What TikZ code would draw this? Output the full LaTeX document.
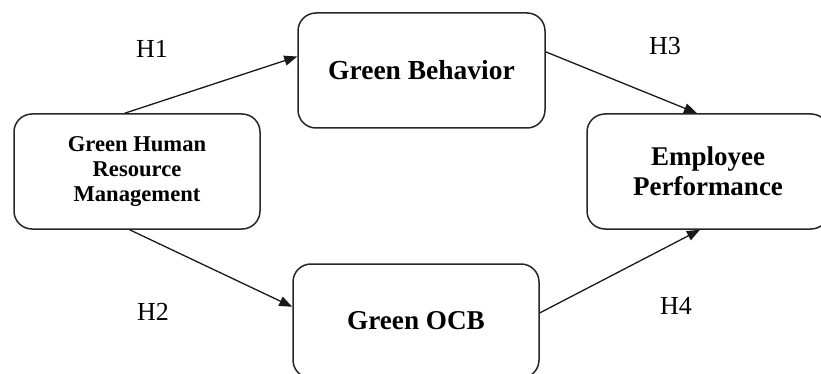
\documentclass[tikz,border=0pt]{standalone}
\usepackage{fontspec}
\setmainfont{Liberation Serif}
\usetikzlibrary{arrows.meta,calc}
\begin{document}
\begin{tikzpicture}[x=1pt,y=-1pt,
 box/.style={draw=black!85,line width=1.5pt,rounded corners=18pt,align=center,inner sep=0pt},
 conn/.style={draw=black!90,line width=1.3pt,-{Triangle[length=13pt,width=10pt]}},
 hlab/.style={font=\fontsize{26}{30}\selectfont,inner sep=0pt}]
\useasboundingbox (0,0) rectangle (821,374);
\clip (0,0) rectangle (821,374);
\node[box,minimum width=246pt,minimum height=115pt,font=\bfseries\fontsize{22.6}{25}\selectfont] (ghrm) at (137,171.5) {Green Human\\Resource\\Management};
\node[box,minimum width=247pt,minimum height=115pt,font=\bfseries\fontsize{27.5}{30}\selectfont] (gb) at (421.5,70.5) {Green Behavior};
\node[box,minimum width=246pt,minimum height=114pt,font=\bfseries\fontsize{27.2}{30}\selectfont] (ocb) at (416,321) {Green OCB};
\node[box,minimum width=242pt,minimum height=115pt,font=\bfseries\fontsize{27}{30}\selectfont] (ep) at (708,171.5) {Employee\\Performance};
\draw[conn] ($(ghrm.north west)!0.45!(ghrm.north east)$) -- ($(gb.north west)!0.38!(gb.south west)$);
\draw[conn] ($(gb.north east)!0.34!(gb.south east)$) -- ($(ep.north west)!0.455!(ep.north east)$);
\draw[conn] ($(ghrm.south west)!0.47!(ghrm.south east)$) -- ($(ocb.north west)!0.377!(ocb.south west)$);
\draw[conn] ($(ocb.north east)!0.43!(ocb.south east)$) -- ($(ep.south west)!0.467!(ep.south east)$);
\node[hlab] (h1) at (152,49) {H1};
\node[hlab] (h3) at (665,46) {H3};
\node[hlab] (h2) at (153,312) {H2};
\node[hlab] (h4) at (676,306) {H4};
\end{tikzpicture}
\end{document}
